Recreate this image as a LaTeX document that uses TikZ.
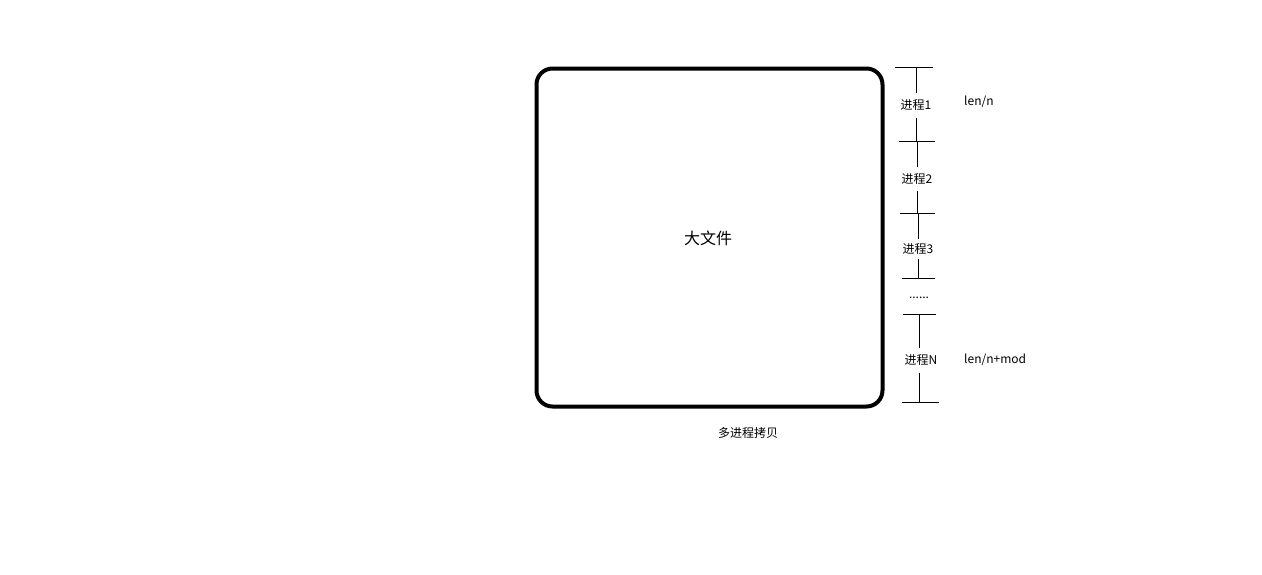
\documentclass[tikz,border=0pt]{standalone}
\usepackage{fontspec}
\setmainfont{Noto Sans CJK SC}
\begin{document}
\begin{tikzpicture}[x=1pt,y=-1pt,
  tick/.style={line width=1pt},
  seg/.style={line width=1pt},
  lbl/.style={font=\fontsize{12}{14}\selectfont, inner sep=0pt, minimum height=24pt},
  note/.style={font=\fontsize{12}{14}\selectfont, inner sep=0pt, anchor=west}]
\useasboundingbox (0,0) rectangle (1262,574);
\node[draw, line width=4pt, rounded corners=16pt, minimum width=346pt, minimum height=338pt, inner sep=0pt] (file) at (709.5,237.5) {};
\node[font=\fontsize{16}{18}\selectfont] (big) at (708,238) {大文件};
\node[font=\fontsize{12}{14}\selectfont] (cap) at (748,433) {多进程拷贝};
% tick coordinates
\coordinate (t1a) at (895,67);  \coordinate (t1b) at (933,67);
\coordinate (t2a) at (899,141); \coordinate (t2b) at (935,141);
\coordinate (t3a) at (900,213); \coordinate (t3b) at (935,213);
\coordinate (t4a) at (902,278); \coordinate (t4b) at (935,278);
\coordinate (t5a) at (903,314); \coordinate (t5b) at (936,314);
\coordinate (t6a) at (902,402); \coordinate (t6b) at (939,402);
\foreach \i in {1,...,6} \draw[tick] (t\i a) -- (t\i b);
% labels
\node[lbl] (p1) at (916,105.5) {进程1};
\node[lbl] (p2) at (917,179) {进程2};
\node[lbl, minimum height=20pt] (p3) at (918,249) {进程3};
\node[lbl] (dots) at (919,298) {......};
\node[lbl] (pN) at (921,360.5) {进程N};
\draw[seg] (916,67) -- (p1.north -| 916,0);
\draw[seg] (p1.south -| 916,0) -- (916,141);
\draw[seg] (917,141) -- (p2.north -| 917,0);
\draw[seg] (p2.south -| 917,0) -- (917,213);
\draw[seg] (918,213) -- (p3.north -| 918,0);
\draw[seg] (p3.south -| 918,0) -- (918,278);
\draw[seg] (919,314) -- (pN.north -| 919,0);
\draw[seg] (pN.south -| 919,0) -- (919,402);
\node[note] (l1) at (964,102) {len/n};
\node[note] (l2) at (964,360) {len/n+mod};
\end{tikzpicture}
\end{document}
